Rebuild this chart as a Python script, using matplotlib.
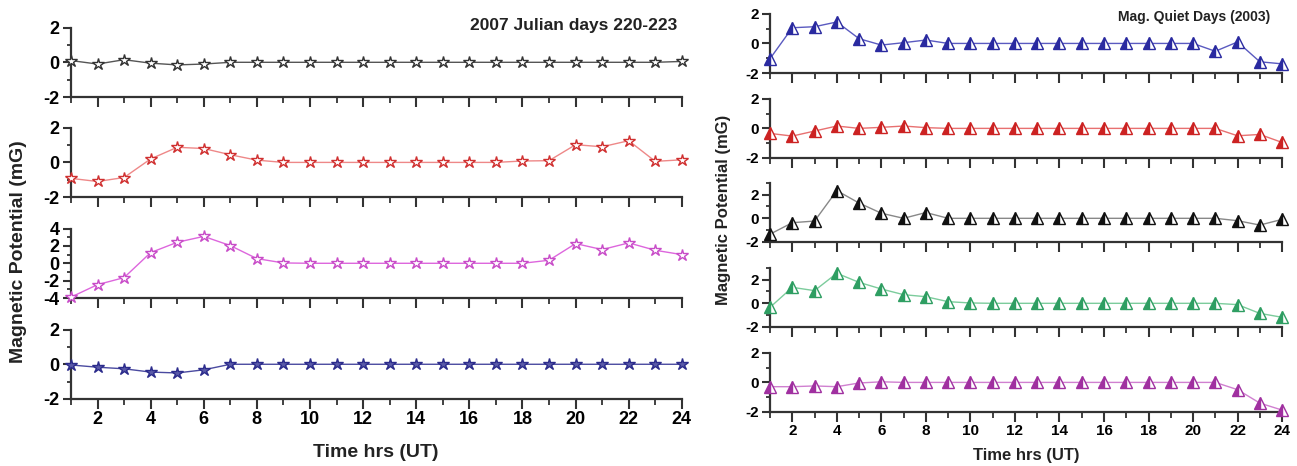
import numpy as np
import matplotlib
matplotlib.use('Agg')
import matplotlib.pyplot as plt
from matplotlib.ticker import MultipleLocator

plt.rcParams['font.family'] = ['Liberation Sans', 'DejaVu Sans']
plt.rcParams['font.weight'] = 'bold'
plt.rcParams['axes.unicode_minus'] = False

hours = np.arange(1, 25)

# 2007 Julian days 220-223 (stars)
jd_a = [0.1, -0.1, 0.15, -0.05, -0.15, -0.1, 0, 0, 0, 0, 0, 0,
        0, 0, 0, 0, 0, 0, 0, 0, 0, 0, 0, 0.05]
jd_b = [-0.92, -1.1, -0.87, 0.2, 0.87, 0.8, 0.44, 0.13, 0, 0, 0, 0,
        0, 0, 0, 0, 0, 0.08, 0.1, 1.02, 0.9, 1.25, 0.06, 0.15]
jd_c = [-3.9, -2.46, -1.65, 1.23, 2.42, 3.1, 2.04, 0.54, 0.04, 0, 0, 0,
        0, 0, 0, 0, 0, 0, 0.35, 2.27, 1.58, 2.35, 1.5, 1.0]
jd_d = [-0.04, -0.17, -0.26, -0.45, -0.5, -0.32, 0, 0, 0, 0, 0, 0,
        0, 0, 0, 0, 0, 0, 0, 0, 0, 0, 0, 0]

# Mag. quiet days 2003 (triangles)
qd_a = [-1.03, 1.06, 1.13, 1.45, 0.32, -0.11, 0.05, 0.23, 0, 0, 0, 0,
        0, 0, 0, 0, 0, 0, 0, 0, -0.53, 0.1, -1.24, -1.38]
qd_b = [-0.34, -0.52, -0.18, 0.16, 0, 0.07, 0.16, 0.05, 0, 0, 0, 0,
        0, 0, 0, 0, 0, 0, 0, 0, 0, -0.5, -0.41, -0.95]
qd_c = [-1.34, -0.37, -0.23, 2.34, 1.29, 0.43, 0, 0.49, 0, 0, 0, 0,
        0, 0, 0, 0, 0, 0, 0, 0, 0, -0.2, -0.57, -0.09]
qd_d = [-0.34, 1.35, 1.07, 2.54, 1.77, 1.21, 0.73, 0.56, 0.14, 0.03, 0, 0,
        0, 0, 0, 0, 0, 0, 0, 0, 0, -0.11, -0.85, -1.18]
qd_e = [-0.29, -0.29, -0.24, -0.29, -0.04, 0.04, 0, 0, 0, 0, 0, 0,
        0, 0, 0, 0, 0, 0, 0, 0, 0, -0.49, -1.4, -1.87]


def style_axis(ax, ylim, ymajor, fs, show_xlabels):
    ax.set_xlim(1, 24)
    ax.set_ylim(*ylim)
    for s in ['top', 'right']:
        ax.spines[s].set_visible(False)
    for s in ['left', 'bottom']:
        ax.spines[s].set_linewidth(1.6)
        ax.spines[s].set_color('#333333')
    ax.xaxis.set_major_locator(MultipleLocator(2))
    ax.xaxis.set_minor_locator(MultipleLocator(1))
    ax.yaxis.set_major_locator(MultipleLocator(ymajor))
    ax.yaxis.set_minor_locator(MultipleLocator(ymajor / 2))
    ax.tick_params(which='major', direction='out', length=6, width=1.5,
                   color='#333333', labelsize=fs, pad=2)
    ax.tick_params(which='minor', direction='out', length=3, width=1.3,
                   color='#333333')
    ax.tick_params(axis='x', labelbottom=show_xlabels)
    ax.tick_params(axis='x', which='both', length=7)
    ax.tick_params(axis='x', which='minor', length=4)
    for lab in ax.get_xticklabels() + ax.get_yticklabels():
        lab.set_fontweight('bold')
    ax.patch.set_alpha(0)


fig = plt.figure(figsize=(12.97, 4.66), dpi=100)

# left block
left_panels = [
    (jd_a, '#333333', 'white', (-2, 2), 2, 0.7918),
    (jd_b, '#d03030', 'white', (-2, 2), 2, 0.577),
    (jd_c, '#c84cc8', 'white', (-4, 4), 2, 0.3605),
    (jd_d, '#2c2c8c', '#5a5aa8', (-2, 2), 2, 0.1438),
]
line_cols = ['#555555', '#ee8888', '#dd66dd', '#4a4aa0']
for i, (vals, col, mfc, ylim, ymaj, bottom) in enumerate(left_panels):
    ax = fig.add_axes([0.0547, bottom, 0.471, 0.149])
    ax.plot(hours, vals, color=line_cols[i], lw=1.0, marker='*',
            markersize=9, markerfacecolor=mfc, markeredgecolor=col,
            markeredgewidth=1.0, clip_on=False, zorder=3)
    style_axis(ax, ylim, ymaj, 13, i == 3)

fig.text(0.522, 0.946, '2007 Julian days 220-223', ha='right', va='center',
         fontsize=12.5, fontweight='bold', color='#222222')
fig.text(0.014, 0.46, 'Magnetic Potential (mG)', rotation=90, ha='center',
         va='center', fontsize=14, fontweight='bold', color='#222222')
fig.text(0.29, 0.03, 'Time hrs (UT)', ha='center', va='center',
         fontsize=14, fontweight='bold', color='#222222')

# right block
right_panels = [
    (qd_a, '#2a2aa0', '#5a5ac0', (-2, 2), 0.8433),
    (qd_b, '#cc2222', '#e87070', (-2, 2), 0.661),
    (qd_c, '#111111', '#888888', (-2, 3), 0.4807),
    (qd_d, '#2e9e62', '#7ccc9c', (-2, 3), 0.2983),
    (qd_e, '#a030a0', '#d080d0', (-2, 2), 0.1159),
]
for i, (vals, col, lcol, ylim, bottom) in enumerate(right_panels):
    ax = fig.add_axes([0.5937, bottom, 0.3948, 0.127])
    ax.plot(hours, vals, color=lcol, lw=1.0, marker='^', markersize=8,
            fillstyle='left', markerfacecolor=col, markerfacecoloralt='white',
            markeredgecolor=col, markeredgewidth=1.0, clip_on=False, zorder=3)
    style_axis(ax, ylim, 2, 11, i == 4)

fig.text(0.979, 0.963, 'Mag. Quiet Days (2003)', ha='right', va='center',
         fontsize=10, fontweight='bold', color='#222222')
fig.text(0.558, 0.55, 'Magnetic Potential (mG)', rotation=90, ha='center',
         va='center', fontsize=12, fontweight='bold', color='#222222')
fig.text(0.791, 0.022, 'Time hrs (UT)', ha='center', va='center',
         fontsize=12, fontweight='bold', color='#222222')

fig.savefig('out.png', dpi=100)
